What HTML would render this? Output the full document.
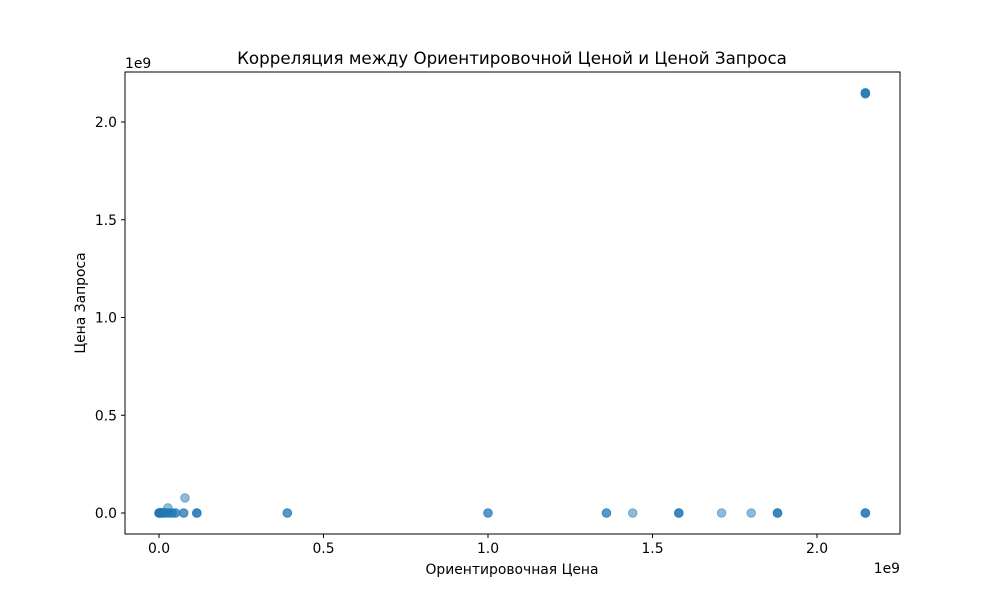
<!DOCTYPE html>
<html><head><meta charset="utf-8"><style>
body{margin:0;background:#fff}
svg text{font-family:"DejaVu Sans","Liberation Sans",sans-serif;fill:#000}
</style></head><body>
<svg id="chart" width="1000" height="600" viewBox="0 0 1000 600">
<rect x="0" y="0" width="1000" height="600" fill="#fff"/>
<text x="512" y="64" font-size="16.7" text-anchor="middle">Корреляция между Ориентировочной Ценой и Ценой Запроса</text>
<g id="points"></g>
<rect x="125" y="72" width="775" height="462" fill="none" stroke="#000" stroke-width="1"/>
<g id="xticks"></g>
<g id="yticks"></g>
<text x="900" y="573" font-size="13.9" text-anchor="end">1e9</text>
<text x="125" y="68" font-size="13.9">1e9</text>
<text x="512" y="574" font-size="13.9" text-anchor="middle">Ориентировочная Цена</text>
<text transform="translate(85,303) rotate(-90)" font-size="13.9" text-anchor="middle">Цена Запроса</text>
</svg>
<script>
const xTicks=[0,0.5,1.0,1.5,2.0];
const xTickLabels=["0.0","0.5","1.0","1.5","2.0"];
const yTicks=[0,0.5,1.0,1.5,2.0];
const yTickLabels=["0.0","0.5","1.0","1.5","2.0"];
const xValues=[0,0,0,0.002,0.005,0.005,0.008,0.01,0.01,0.015,0.02,0.02,0.03,0.03,0.04,0.04,0.05,0.05,0.075,0.075,0.115,0.115,0.115,0.027,0.079,0.39,0.39,1.0,1.0,1.36,1.36,1.44,1.58,1.58,1.58,1.71,1.80,1.88,1.88,1.88,2.147,2.147,2.147,2.147,2.147,2.147,2.147];
const yValues=[0,0,0,0.001,0,0,0.002,0,0,0,0.001,0,0,0,0,0,0,0,0,0,0,0,0,0.026,0.077,0,0,0,0,0,0,0,0,0,0,0,0,0,0,0,0,0,0,2.144,2.147,2.150,2.147];
const NS="http://www.w3.org/2000/svg";
function sx(v){return 159+v*329;}
function sy(v){return 513-v*195.5;}
const pg=document.getElementById('points');
xValues.forEach((xv,i)=>{
  const c=document.createElementNS(NS,'circle');
  c.setAttribute('cx',sx(xv));c.setAttribute('cy',sy(yValues[i]));
  c.setAttribute('r',4.3);c.setAttribute('fill','#1f77b4');c.setAttribute('fill-opacity',0.5);
  c.setAttribute('stroke','#1f77b4');c.setAttribute('stroke-opacity',0.5);c.setAttribute('stroke-width',1);
  
  
  pg.appendChild(c);
});
const xg=document.getElementById('xticks');
xTicks.forEach((t,i)=>{
  const x=sx(t);
  const l=document.createElementNS(NS,'line');
  l.setAttribute('x1',x);l.setAttribute('x2',x);l.setAttribute('y1',534);l.setAttribute('y2',538);l.setAttribute('stroke','#000');
  
  
  xg.appendChild(l);
  const tx=document.createElementNS(NS,'text');
  tx.setAttribute('x',x);tx.setAttribute('y',553);tx.setAttribute('font-size','13.9');tx.setAttribute('text-anchor','middle');
  tx.textContent=xTickLabels[i];
  
  
  xg.appendChild(tx);
});
const yg=document.getElementById('yticks');
yTicks.forEach((t,i)=>{
  const y=sy(t);
  const l=document.createElementNS(NS,'line');
  l.setAttribute('x1',121);l.setAttribute('x2',125);l.setAttribute('y1',y);l.setAttribute('y2',y);l.setAttribute('stroke','#000');
  
  
  yg.appendChild(l);
  const tx=document.createElementNS(NS,'text');
  tx.setAttribute('x',117);tx.setAttribute('y',y+5);tx.setAttribute('font-size','13.9');tx.setAttribute('text-anchor','end');
  tx.textContent=yTickLabels[i];
  
  
  yg.appendChild(tx);
});
</script>
</body></html>
